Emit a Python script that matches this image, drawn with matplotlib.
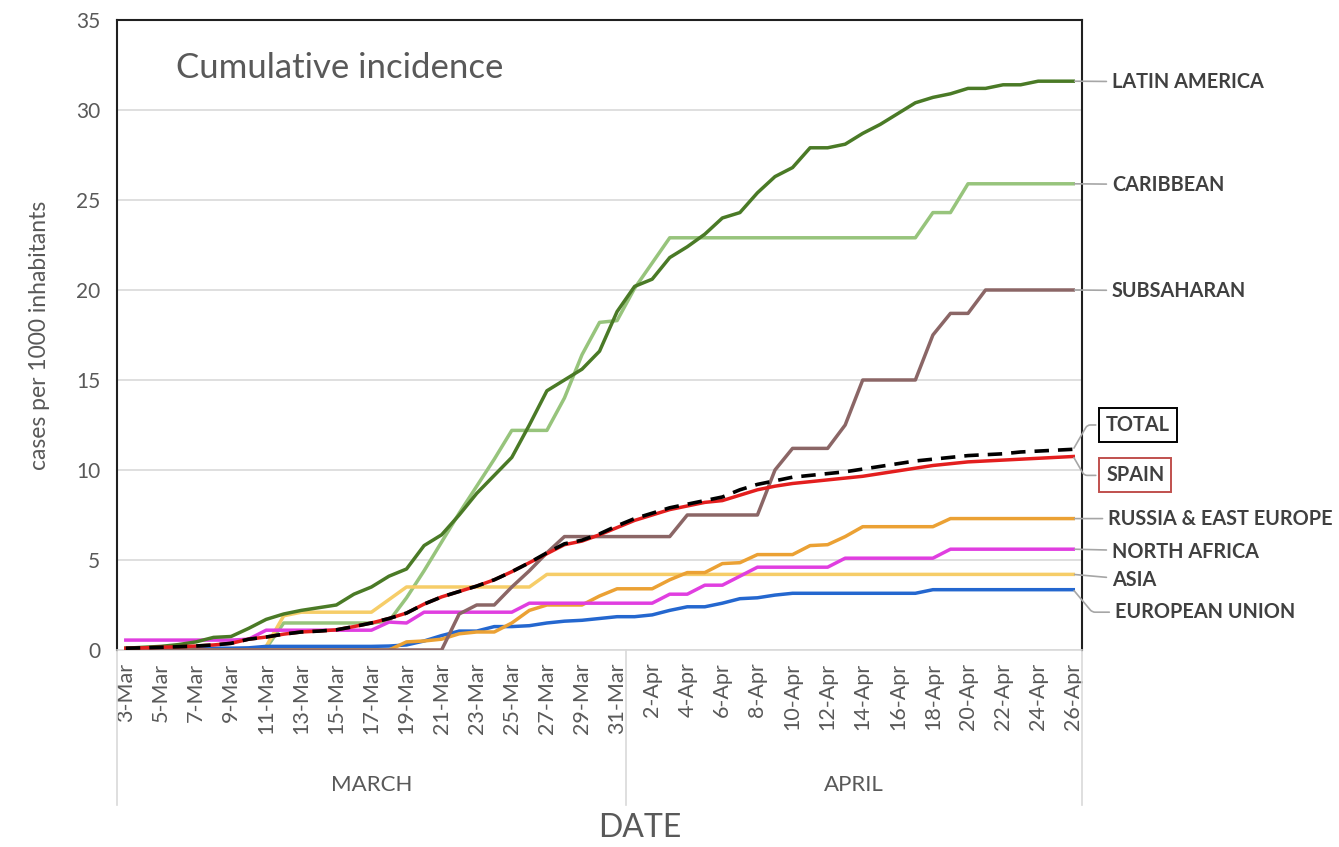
import matplotlib
matplotlib.use("Agg")
import matplotlib.pyplot as plt
import matplotlib.transforms as mtransforms
import numpy as np

plt.rcParams['font.family'] = ['Lato', 'DejaVu Sans']

# categories: one point per day, 3-Mar .. 26-Apr
dates = [f"{d}-Mar" for d in range(3, 32)] + [f"{d}-Apr" for d in range(1, 27)]
months = ["MARCH", "APRIL"]

# cumulative incidence, cases per 1000 inhabitants
latin_america = [
    0.1, 0.15, 0.2, 0.3, 0.45,
    0.7, 0.75, 1.2, 1.7, 2.0,
    2.2, 2.35, 2.5, 3.1, 3.5,
    4.1, 4.5, 5.8, 6.4, 7.5,
    8.7, 9.7, 10.7, 12.5, 14.4,
    15.0, 15.6, 16.6, 18.8, 20.2,
    20.6, 21.8, 22.4, 23.1, 24.0,
    24.3, 25.4, 26.3, 26.8, 27.9,
    27.9, 28.1, 28.7, 29.2, 29.8,
    30.4, 30.7, 30.9, 31.2, 31.2,
    31.4, 31.4, 31.6, 31.6, 31.6]
caribbean = [
    0, 0, 0, 0, 0,
    0, 0, 0, 0.1, 1.5,
    1.5, 1.5, 1.5, 1.5, 1.5,
    1.6, 2.9, 4.4, 6.0, 7.6,
    9.1, 10.6, 12.2, 12.2, 12.2,
    14.0, 16.4, 18.2, 18.3, 20.1,
    21.5, 22.9, 22.9, 22.9, 22.9,
    22.9, 22.9, 22.9, 22.9, 22.9,
    22.9, 22.9, 22.9, 22.9, 22.9,
    22.9, 24.3, 24.3, 25.9, 25.9,
    25.9, 25.9, 25.9, 25.9, 25.9]
subsaharan = [
    0, 0, 0, 0, 0,
    0, 0, 0, 0, 0,
    0, 0, 0, 0, 0,
    0, 0, 0, 0, 2.0,
    2.5, 2.5, 3.5, 4.4, 5.4,
    6.3, 6.3, 6.3, 6.3, 6.3,
    6.3, 6.3, 7.5, 7.5, 7.5,
    7.5, 7.5, 10.0, 11.2, 11.2,
    11.2, 12.5, 15.0, 15.0, 15.0,
    15.0, 17.5, 18.7, 18.7, 20.0,
    20.0, 20.0, 20.0, 20.0, 20.0]
total = [
    0.1, 0.12, 0.15, 0.18, 0.22,
    0.28, 0.37, 0.6, 0.72, 0.88,
    1.0, 1.05, 1.12, 1.3, 1.5,
    1.75, 2.05, 2.55, 2.95, 3.25,
    3.55, 3.9, 4.35, 4.85, 5.4,
    5.9, 6.1, 6.45, 6.9, 7.3,
    7.6, 7.9, 8.1, 8.3, 8.5,
    8.9, 9.2, 9.4, 9.6, 9.7,
    9.8, 9.9, 10.05, 10.2, 10.35,
    10.5, 10.6, 10.7, 10.8, 10.85,
    10.9, 11.0, 11.05, 11.1, 11.15]
spain = [
    0.1, 0.12, 0.15, 0.18, 0.22,
    0.28, 0.37, 0.6, 0.72, 0.88,
    1.0, 1.05, 1.12, 1.3, 1.5,
    1.75, 2.05, 2.55, 2.95, 3.25,
    3.55, 3.9, 4.35, 4.85, 5.35,
    5.85, 6.05, 6.4, 6.8, 7.2,
    7.5, 7.8, 8.0, 8.2, 8.3,
    8.6, 8.9, 9.1, 9.25, 9.35,
    9.45, 9.55, 9.65, 9.8, 9.95,
    10.1, 10.25, 10.35, 10.45, 10.5,
    10.55, 10.6, 10.65, 10.7, 10.75]
russia_east_europe = [
    0, 0, 0, 0, 0,
    0, 0, 0, 0, 0,
    0, 0, 0, 0, 0,
    0, 0.45, 0.5, 0.6, 0.9,
    1.0, 1.0, 1.5, 2.2, 2.5,
    2.5, 2.5, 3.0, 3.4, 3.4,
    3.4, 3.9, 4.3, 4.3, 4.8,
    4.85, 5.3, 5.3, 5.3, 5.8,
    5.85, 6.3, 6.85, 6.85, 6.85,
    6.85, 6.85, 7.3, 7.3, 7.3,
    7.3, 7.3, 7.3, 7.3, 7.3]
north_africa = [
    0.55, 0.55, 0.55, 0.55, 0.55,
    0.55, 0.55, 0.6, 1.1, 1.1,
    1.1, 1.1, 1.1, 1.1, 1.1,
    1.55, 1.5, 2.1, 2.1, 2.1,
    2.1, 2.1, 2.1, 2.6, 2.6,
    2.6, 2.6, 2.6, 2.6, 2.6,
    2.6, 3.1, 3.1, 3.6, 3.6,
    4.1, 4.6, 4.6, 4.6, 4.6,
    4.6, 5.1, 5.1, 5.1, 5.1,
    5.1, 5.1, 5.6, 5.6, 5.6,
    5.6, 5.6, 5.6, 5.6, 5.6]
asia = [
    0, 0, 0, 0, 0,
    0, 0, 0, 0.2, 1.9,
    2.1, 2.1, 2.1, 2.1, 2.1,
    2.8, 3.5, 3.5, 3.5, 3.5,
    3.5, 3.5, 3.5, 3.5, 4.2,
    4.2, 4.2, 4.2, 4.2, 4.2,
    4.2, 4.2, 4.2, 4.2, 4.2,
    4.2, 4.2, 4.2, 4.2, 4.2,
    4.2, 4.2, 4.2, 4.2, 4.2,
    4.2, 4.2, 4.2, 4.2, 4.2,
    4.2, 4.2, 4.2, 4.2, 4.2]
european_union = [
    0.05, 0.05, 0.05, 0.05, 0.08,
    0.1, 0.1, 0.12, 0.2, 0.2,
    0.2, 0.2, 0.2, 0.2, 0.2,
    0.22, 0.28, 0.5, 0.8, 1.05,
    1.05, 1.3, 1.3, 1.35, 1.5,
    1.6, 1.65, 1.75, 1.85, 1.85,
    1.95, 2.2, 2.4, 2.4, 2.6,
    2.85, 2.9, 3.05, 3.15, 3.15,
    3.15, 3.15, 3.15, 3.15, 3.15,
    3.15, 3.35, 3.35, 3.35, 3.35,
    3.35, 3.35, 3.35, 3.35, 3.35]

x = np.arange(len(dates))
grey = '#595959'

fig = plt.figure(figsize=(13.39, 8.47), dpi=100)
ax = fig.add_axes([0.0874, 0.2326, 0.7207, 0.7438])

# series: (values, label, colour, style, label y, label x, connection, box edge)
series = [
    (caribbean, "CARIBBEAN", '#97c47c', '-', 25.85, 1.031, None, None),
    (asia, "ASIA", '#f6cd68', '-', 3.9, 1.031, None, None),
    (european_union, "EUROPEAN UNION", '#2467cf', '-', 2.1, 1.034,
     "angle,angleA=0,angleB=-50,rad=3", None),
    (russia_east_europe, "RUSSIA & EAST EUROPE", '#eba134', '-', 7.3, 1.027, None, None),
    (north_africa, "NORTH AFRICA", '#e03ee0', '-', 5.45, 1.031, None, None),
    (subsaharan, "SUBSAHARAN", '#8b6666', '-', 19.95, 1.031, None, None),
    (latin_america, "LATIN AMERICA", '#4a7a26', '-', 31.55, 1.031, None, None),
    (spain, "SPAIN", '#e31e1e', '-', 9.7, 1.025,
     "angle,angleA=0,angleB=-60,rad=3", '#c0504d'),
    (total, "TOTAL", '#000000', '--', 12.5, 1.025,
     "angle,angleA=0,angleB=60,rad=3", '#000000'),
]

lbl_trans = mtransforms.blended_transform_factory(ax.transAxes, ax.transData)
for vals, name, col, ls, ly, lx, conn, boxcol in series:
    if ls == '--':
        ax.plot(x, vals, color=col, lw=2.6, ls=(0, (4, 2.5)), zorder=4)
    else:
        ax.plot(x, vals, color=col, lw=2.5, zorder=3)
    bbox = None
    if boxcol is not None:
        bbox = dict(boxstyle='square,pad=0.35', fc='white', ec=boxcol, lw=1.4)
    ax.annotate(name, xy=(x[-1], vals[-1]), xycoords='data',
                xytext=(lx, ly), textcoords=lbl_trans,
                ha='left', va='center', fontsize=14.3, fontweight='bold',
                color='#404040', bbox=bbox, annotation_clip=False,
                arrowprops=dict(arrowstyle='-', color='#a6a6a6', lw=1.2,
                                shrinkA=2, shrinkB=1,
                                connectionstyle=conn or "arc3"))

ax.set_xlim(-0.5, len(dates) - 0.5)
ax.set_ylim(0, 35)
ax.set_yticks(range(0, 36, 5))
ax.yaxis.grid(True, color='#d9d9d9', lw=1.2)
ax.set_axisbelow(True)
ax.tick_params(axis='y', length=0, pad=12, labelsize=15, labelcolor=grey)

ax.set_xticks(x[::2])
ax.set_xticklabels(dates[::2], rotation=90, fontsize=15.5, color=grey)
ax.tick_params(axis='x', length=0, pad=9)

for side in ['left', 'top', 'right']:
    ax.spines[side].set_color('#202020')
    ax.spines[side].set_linewidth(1.5)
ax.spines['bottom'].set_color('#d9d9d9')
ax.spines['bottom'].set_linewidth(1.2)

ax.set_ylabel("cases per 1000 inhabitants", fontsize=16.5, color=grey)
ax.yaxis.set_label_coords(-0.069, 0.5)

ax.text(0.061, 0.924, "Cumulative incidence", transform=ax.transAxes,
        fontsize=25, color=grey, va='center', ha='left')

# month level of the category axis
sep_trans = mtransforms.blended_transform_factory(ax.transData, ax.transAxes)
n_march = 29
for sx in [-0.5, n_march - 0.5, len(dates) - 0.5]:
    ax.plot([sx, sx], [0, -0.246], transform=sep_trans, color='#d9d9d9',
            lw=1.2, clip_on=False)
ax.text((n_march - 1) / 2, -0.214, months[0], transform=sep_trans,
        ha='center', va='center', fontsize=16, color=grey)
ax.text((n_march + len(dates) - 1) / 2, -0.214, months[1], transform=sep_trans,
        ha='center', va='center', fontsize=16, color=grey)

fig.text(640 / 1339, 1 - 828 / 847, "DATE", ha='center', va='center',
         fontsize=23, color=grey)

fig.savefig("out.png", dpi=100)
